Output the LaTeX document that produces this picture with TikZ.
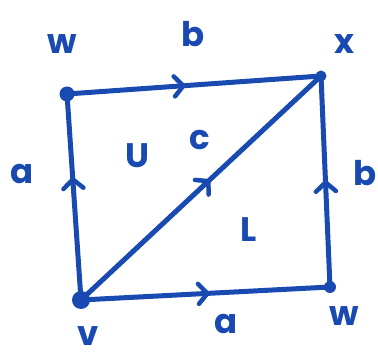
\documentclass[tikz,border=0pt]{standalone}
\usepackage{fontspec}
\setmainfont{Poppins}
\usetikzlibrary{arrows.meta,decorations.markings}
\definecolor{ink}{RGB}{24,74,178}
\tikzset{
  edge/.style={draw=ink,line width=5pt,line cap=round,line join=round},
  midarrow/.style={postaction={decorate},decoration={markings,mark=at position #1 with {\arrow[ink,line width=4.5pt]{Straight Barb[length=9pt,width=20pt,line cap=round]}}}},
  vdot/.style={circle,fill=ink,inner sep=0pt,minimum size=#1},
  lbl/.style={text=ink,font=\fontsize{34}{34}\selectfont\bfseries,inner sep=0pt}
}
\begin{document}
\begin{tikzpicture}[x=1pt,y=-1pt]
\useasboundingbox (0,0) rectangle (378,358);
\node[vdot=15pt] (W1) at (67,94) {};
\node[vdot=11pt] (X) at (321,76) {};
\node[vdot=18pt] (V) at (81,300) {};
\node[vdot=12pt] (W2) at (330,287) {};
\draw[edge,midarrow=0.47] (W1.center) -- (X.center);
\draw[edge,midarrow=0.6] (V.center) -- (W1.center);
\draw[edge,midarrow=0.54] (V.center) -- (X.center);
\draw[edge,midarrow=0.51] (W2.center) -- (X.center);
\draw[edge,midarrow=0.52] (V.center) -- (W2.center);
\node[lbl] (lw1) at (62,44) {w};
\node[lbl] (lb1) at (193,34) {b};
\node[lbl] (lx) at (344,44) {x};
\node[lbl] (la1) at (22,174) {a};
\node[lbl] (lU) at (137,156) {U};
\node[lbl] (lc) at (200,140) {c};
\node[lbl] (lb2) at (365,173) {b};
\node[lbl] (lL) at (249,230) {L};
\node[lbl] (la2) at (226,324) {a};
\node[lbl] (lw2) at (344,316) {w};
\node[lbl] (lv) at (88,336) {v};
\end{tikzpicture}
\end{document}
